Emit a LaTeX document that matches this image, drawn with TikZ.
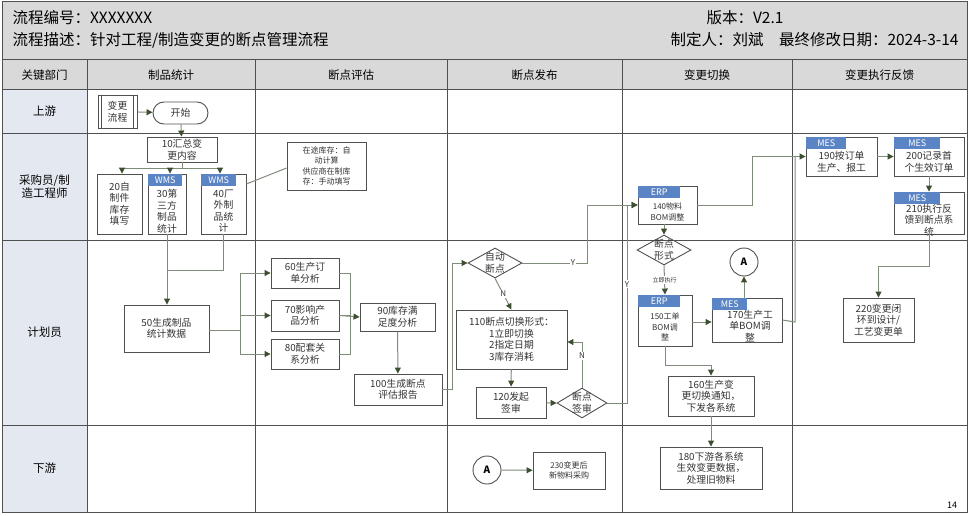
\documentclass[tikz,border=0pt]{standalone}
\usepackage{fontspec}
\setmainfont{Noto Sans CJK SC}
\usetikzlibrary{shapes.geometric,arrows.meta}
\definecolor{ln}{HTML}{7F8C7A}
\definecolor{ah}{HTML}{3D4F30}
\definecolor{bd}{HTML}{505050}
\definecolor{tg}{HTML}{5B84C4}
\definecolor{hd}{HTML}{D9D9D9}
\definecolor{lc}{HTML}{E4E9F1}
\begin{document}
\begin{tikzpicture}[x=1pt,y=-1pt,
  box/.style={draw=bd,line width=0.9pt,rectangle,inner sep=0pt},
  txt/.style={align=center,font=\fontsize{9.8}{11.5}\selectfont,inner sep=0pt,text=black!80},
  stxt/.style={align=center,font=\fontsize{8}{10.5}\selectfont,inner sep=0pt,text=black!80},
  tag/.style={fill=tg,text=white,inner sep=0pt,minimum height=12pt,font=\fontsize{9}{9}\selectfont,anchor=north west},
  dia/.style={draw=bd,line width=0.9pt,diamond,inner sep=0pt,minimum width=54pt,minimum height=30pt},
  cir/.style={draw=bd,line width=0.9pt,circle,minimum size=28pt,inner sep=0pt,font=\fontsize{10}{10}\selectfont\bfseries},
  con/.style={draw=ln,line width=1pt},
  arr/.style={con,-{Triangle[length=6pt,width=6pt,color=ah]}},
  lab/.style={font=\fontsize{8}{9}\selectfont,fill=white,inner sep=1pt,text=black!80},
  cell/.style={font=\fontsize{11.5}{13}\selectfont,align=center},
  head/.style={font=\fontsize{15.5}{16}\selectfont}]
\useasboundingbox (0,0) rectangle (971,516);
% header
\fill[hd] (2,2) rectangle (967,60);
\fill[hd] (2,60) rectangle (967,90);
\fill[lc] (2,90) rectangle (87,512);
\draw[bd,line width=1pt] (2,2) rectangle (967,512);
\foreach \y in {60,90,133,240,425} \draw[bd,line width=1pt] (2,\y) -- (967,\y);
\foreach \x in {87,255,447,622,792} \draw[bd,line width=1pt] (\x,60) -- (\x,512);
\node[anchor=west,head] (h1) at (9,18) {流程编号：XXXXXXX};
\node[anchor=west,head] (h2) at (9,40) {流程描述：针对工程/制造变更的断点管理流程};
\node[anchor=west,head] (h3) at (703,18) {版本：V2.1};
\node[anchor=east,head] (h4) at (962,40) {制定人：刘斌\quad 最终修改日期：2024-3-14};
\node[cell] (c0) at (44.5,75) {关键部门};
\node[cell] (c1) at (171,75) {制品统计};
\node[cell] (c2) at (351,75) {断点评估};
\node[cell] (c3) at (534.5,75) {断点发布};
\node[cell] (c4) at (707,75) {变更切换};
\node[cell] (c5) at (879.5,75) {变更执行反馈};
\node[cell] (r1) at (44.5,111.5) {上游};
\node[cell] (r2) at (44.5,186.5) {采购员/制\\造工程师};
\node[cell] (r3) at (44.5,332.5) {计划员};
\node[cell] (r4) at (44.5,468.5) {下游};
\node[font=\fontsize{9}{9}\selectfont] (pg) at (952,505) {14};
% nodes
\node[box,minimum width=39pt,minimum height=33pt,txt] (bp) at (117.5,111.5) {变更\\流程};
\draw[bd,line width=0.9pt] ([xshift=4pt]bp.north west) -- ([xshift=4pt]bp.south west) ([xshift=-4pt]bp.north east) -- ([xshift=-4pt]bp.south east);
\node[box,minimum width=55pt,minimum height=22pt,rounded corners=11pt,txt] (st) at (180.5,113) {开始};
\node[box,minimum width=70pt,minimum height=25pt,txt] (n10) at (182,149.5) {10汇总变\\更内容};
\node[box,minimum width=45pt,minimum height=60pt,txt] (n20) at (119.5,204) {20自\\制件\\库存\\填写};
\node[box,minimum width=38pt,minimum height=60pt] (n30) at (167,204) {};
\node[tag,minimum width=34pt] (t30) at ([shift={(0.5,0.5)}]n30.north west) {WMS};
\node[txt] (x30) at (167,211) {30第\\三方\\制品\\统计};
\node[box,minimum width=45pt,minimum height=60pt] (n40) at (223.5,204) {};
\node[tag,minimum width=35pt] (t40) at ([shift={(0.5,0.5)}]n40.north west) {WMS};
\node[txt] (x40) at (223.5,211) {40厂\\外制\\品统\\计};
\node[box,minimum width=79pt,minimum height=48pt,stxt] (note) at (326.5,166) {在途库存：自\\动计算\\供应商在制库\\存：手动填写};
\node[box,minimum width=85pt,minimum height=47pt,txt] (n50) at (166.5,328.5) {50生成制品\\统计数据};
\node[box,minimum width=68pt,minimum height=30pt,txt] (n60) at (305,273) {60生产订\\单分析};
\node[box,minimum width=68pt,minimum height=31pt,txt] (n70) at (305,315.5) {70影响产\\品分析};
\node[box,minimum width=68pt,minimum height=30pt,txt] (n80) at (305,354) {80配套关\\系分析};
\node[box,minimum width=75pt,minimum height=28pt,txt] (n90) at (397.5,317) {90库存满\\足度分析};
\node[box,minimum width=88pt,minimum height=31pt,txt] (n100) at (398,389.5) {100生成断点\\评估报告};
\node[dia] (d1) at (495,263) {};
\node[txt] (xd1) at (495,263) {自动\\断点};
\node[box,minimum width=111pt,minimum height=59pt,txt] (n110) at (511.5,339.5) {110断点切换形式：\\1立即切换\\2指定日期\\3库存消耗};
\node[box,minimum width=70pt,minimum height=31pt,txt] (n120) at (511,402.5) {120发起\\签审};
\node[dia,minimum width=50pt] (d2) at (582,403) {};
\node[txt] (xd2) at (582,403) {断点\\签审};
\node[box,minimum width=59pt,minimum height=38pt] (n140) at (667.5,205) {};
\node[tag,minimum width=42pt] (t140) at ([shift={(0.5,0.5)}]n140.north west) {ERP};
\node[stxt] (x140) at (667.5,212) {140物料\\BOM调整};
\node[dia] (d3) at (664,250) {};
\node[txt] (xd3) at (664,250) {断点\\形式};
\node[box,minimum width=54pt,minimum height=51pt] (n150) at (665,320.5) {};
\node[tag,minimum width=42pt] (t150) at ([shift={(0.5,0.5)}]n150.north west) {ERP};
\node[stxt] (x150) at (665,327) {150工单\\BOM调\\整};
\node[cir] (a1) at (744,262) {A};
\node[box,minimum width=70pt,minimum height=44pt] (n170) at (747,320) {};
\node[tag,minimum width=35pt] (t170) at ([shift={(0.5,0.5)}]n170.north west) {MES};
\node[txt] (x170) at (750,326) {170生产工\\单BOM调\\整};
\node[box,minimum width=86pt,minimum height=40pt,txt] (n160) at (711,396) {160生产变\\更切换通知，\\下发各系统};
\node[box,minimum width=102pt,minimum height=42pt,txt] (n180) at (711,468) {180下游各系统\\生效变更数据，\\处理旧物料};
\node[cir] (a2) at (487,470) {A};
\node[box,minimum width=72pt,minimum height=37pt,stxt] (n230) at (569,470.5) {230变更后\\新物料采购};
\node[box,minimum width=71pt,minimum height=39pt] (n190) at (841.5,156.5) {};
\node[tag,minimum width=40pt] (t190) at ([shift={(0.5,0.5)}]n190.north west) {MES};
\node[txt] (x190) at (841.5,162) {190按订单\\生产、报工};
\node[box,minimum width=70pt,minimum height=39pt] (n200) at (929,156.5) {};
\node[tag,minimum width=46pt] (t200) at ([shift={(0.5,0.5)}]n200.north west) {MES};
\node[txt] (x200) at (929,162) {200记录首\\个生效订单};
\node[box,minimum width=70pt,minimum height=42pt] (n210) at (929,213) {};
\node[tag,minimum width=46pt] (t210) at ([shift={(0.5,0.5)}]n210.north west) {MES};
\node[txt] (x210) at (929,220) {210执行反\\馈到断点系\\统};
\node[box,minimum width=71pt,minimum height=44pt,txt] (n220) at (878.5,320) {220变更闭\\环到设计/\\工艺变更单};
% connectors
\draw[arr] (bp) -- (st);
\draw[arr] (st) -- (n10);
\draw[arr] (n10.south) -- ++(0,6) -| (n20.north -| 122,0);
\draw[arr] (n10.south) -- ++(0,6) -| (n30.north -| 170,0);
\draw[arr] (n10.south) -- ++(0,6) -| (n40.north -| 220,0);
\draw[con] (n40.east |- 0,184) -- (note.west |- 0,168);
\draw[arr] (n30.south -| 167,0) -- (n50.north -| 167,0);
\draw[con] (n40.south) |- (167,270);
\coordinate (b1) at (240,330);
\draw[con] (n50.east |- b1) -- (b1);
\draw[arr] (b1) |- (n60.west);
\draw[arr] (b1) |- (n70.west);
\draw[arr] (b1) |- (n80.west);
\draw[con] (n60.east) -- ++(11,0) |- (n70.east);
\draw[con] (n80.east) -- ++(11,0) |- (n70.east);
\draw[arr] (n70.east) -- (n90.west);
\draw[arr] (n90) -- (n100);
\draw[arr] (n100.east) -- ++(10,0) |- (d1.west);
\draw[arr] (d1.east) -- (587,263) |- (n140.west) node[lab,pos=0.0,xshift=-14pt] {Y};
\draw[arr] (d1.south) -- (n110.north) node[lab,midway] {N};
\draw[arr] (n110) -- (n120);
\draw[arr] (n120) -- (d2.west);
\draw[arr] (d2.north) |- (n110.east |- 0,342) node[lab,pos=0.35] {N};
\draw[arr] (d2.east) -- (627,403) |- (n140.west) node[lab,pos=0.3] {Y};
\draw[arr] (n140.south -| d3.north) -- (d3.north);
\draw[arr] (d3.south) -- (n150.north) node[lab,midway,font=\fontsize{6}{7}\selectfont] {立即执行};
\draw[arr] (n150.east |- 0,322) -- (n170.west |- 0,322);
\draw[arr] (n170.north -| a1) -- (a1.south);
\draw[arr] (n150.south) -- ++(0,19) -| (n160.north);
\draw[arr] (n160) -- (n180);
\draw[arr] (n140.east) -- (752,205) |- (n190.west);
\draw[con] (n170.east) -- (795,322) -- (795,157);
\draw[arr] (n190) -- (n200);
\draw[arr] (n200) -- (n210);
\draw[arr] (n210.south) -- ++(0,32) -| (n220.north);
\draw[arr] (a2) -- (n230);
\end{tikzpicture}
\end{document}
